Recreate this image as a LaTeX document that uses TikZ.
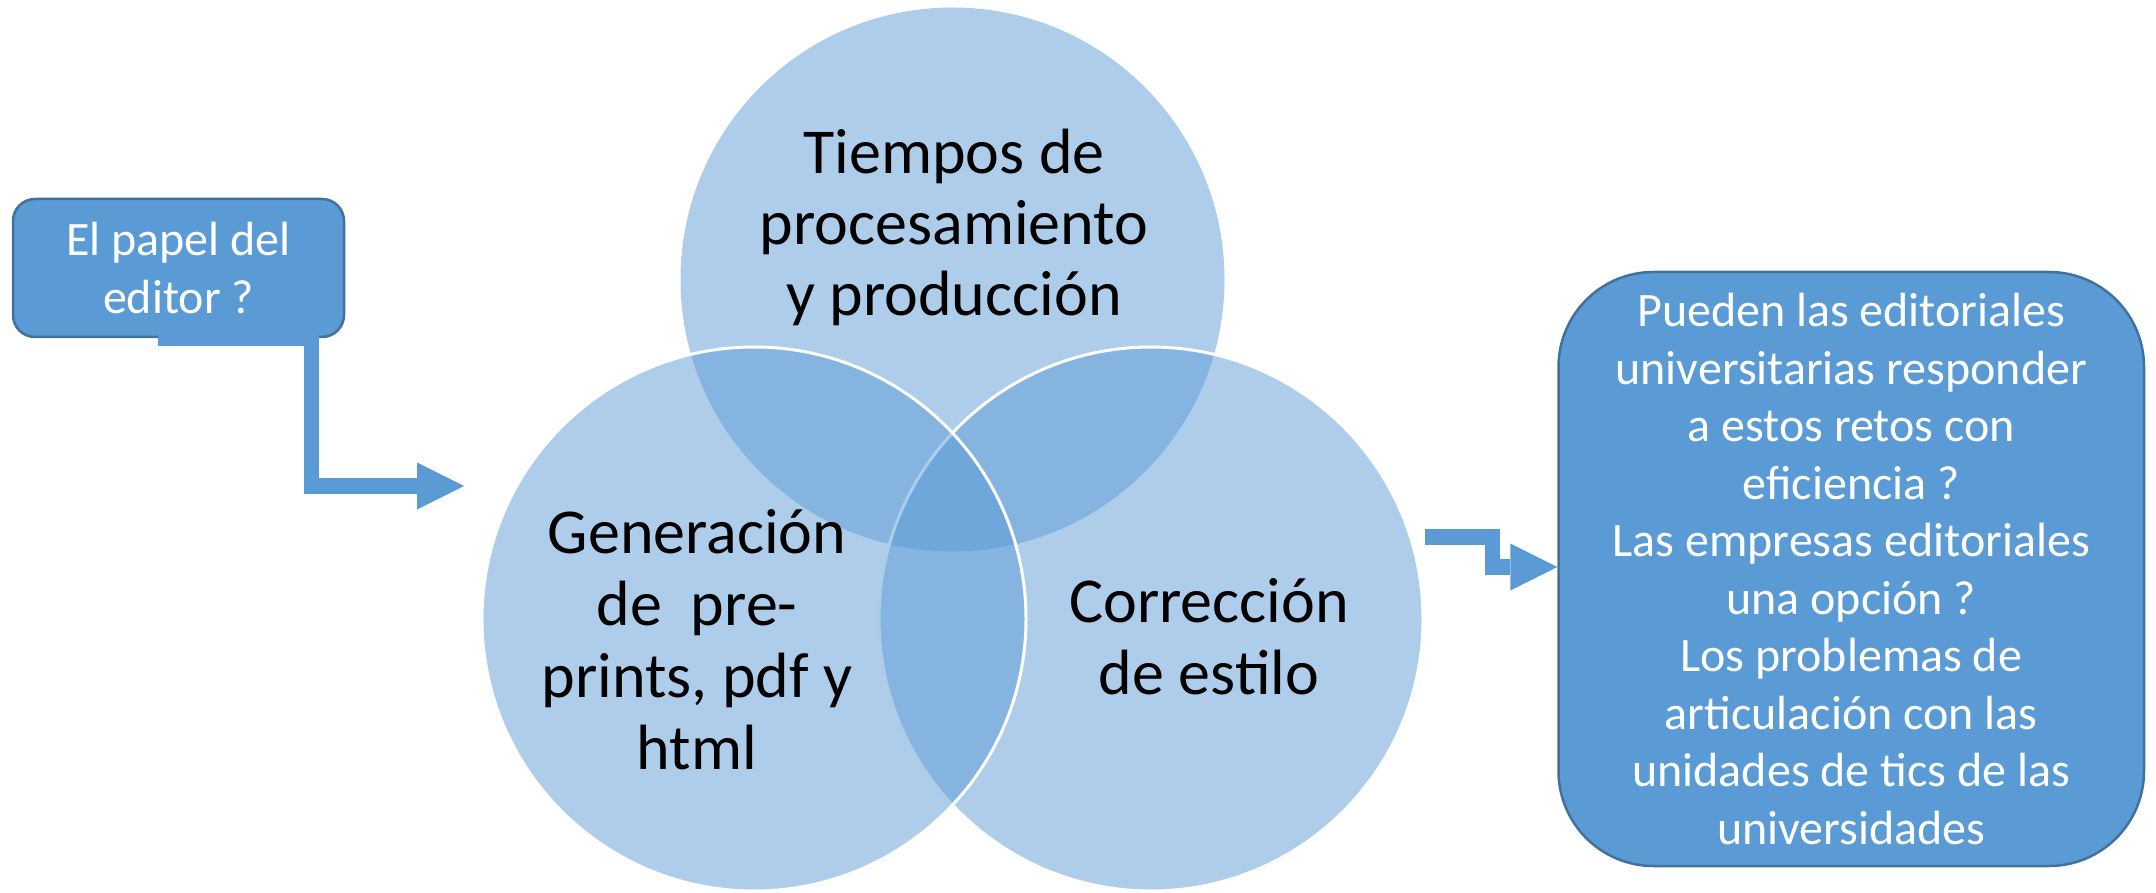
\documentclass[tikz,border=0pt]{standalone}
\usepackage{fontspec}
\setmainfont{Carlito}
\usetikzlibrary{arrows.meta}
\definecolor{vennblue}{HTML}{5B9BD5}
\definecolor{boxedge}{HTML}{41719C}
\begin{document}
\begin{tikzpicture}[x=1pt,y=-1pt,
        vennset/.style={circle, minimum size=544pt, inner sep=0pt, fill=vennblue, fill opacity=0.5, draw=white, line width=3pt},
        venntext/.style={align=center, inner sep=0pt, font=\fontsize{64}{72}\selectfont},
        qbox/.style={draw=boxedge, line width=2.5pt, fill=vennblue, text=white, align=center, inner sep=0pt},
        bentarrow/.style={draw=vennblue, line width=15.5pt, -{Triangle[length=47pt 0 0, width=47pt 0 0, line width=0pt]}}]
    \useasboundingbox (0,0) rectangle (2156,893);
    % three sets
    \node[vennset, draw=none] (T) at (952.5,279.5) {};
    \node[vennset] (R) at (1151,619) {};
    \node[vennset] (L) at (754,619) {};
    \node[venntext, font=\fontsize{64}{71}\selectfont] (T text) at (954,227) {Tiempos de\\procesamiento\\y producción};
    \node[venntext] (L text) at (697,640) {Generación\\de\ \ pre-\\prints, pdf y\\html};
    \node[venntext] (R text) at (1209,636.5) {Corrección\\de estilo};
    % question boxes
    \node[qbox, minimum width=331pt, minimum height=138pt, rounded corners=22pt,
          font=\fontsize{48}{58}\selectfont] (editor) at (178.5,268) {El papel del\\editor ?};
    \node[qbox, minimum width=585.5pt, minimum height=594pt, rounded corners=95pt,
          font=\fontsize{48}{57.5}\selectfont] (questions) at (1851.25,569)
        {Pueden las editoriales\\universitarias responder\\a estos retos con\\eficiencia ?\\Las empresas editoriales\\una opción ?\\Los problemas de\\articulación con las\\unidades de tics de las\\universidades};
    % arrows
    \coordinate (venn in) at (464,486);
    \coordinate (venn out) at (1425,537);
    \draw[bentarrow] ([xshift=-20.5pt]editor.south) -- ++(153.5,0) |- (venn in);
    \draw[bentarrow] (venn out) -- ++(67.5,0) |- ([yshift=2pt]questions.west);
\end{tikzpicture}
\end{document}
